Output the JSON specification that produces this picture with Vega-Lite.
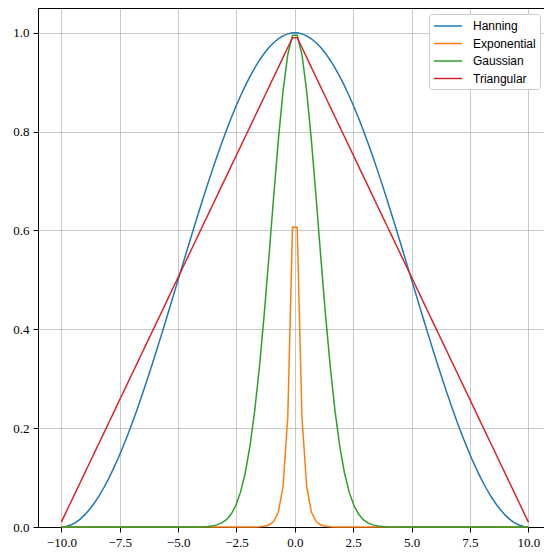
{
  "$schema": "https://vega.github.io/schema/vega-lite/v6.json",
  "autosize": {"type": "none"},
  "padding": {"left": 38, "top": 8, "right": 0, "bottom": 25},
  "width": 506,
  "height": 519,
  "background": "white",
  "config": {
    "view": {"stroke": null},
    "axis": {
      "labelFont": "Liberation Serif",
      "labelFontSize": 13,
      "labelColor": "black",
      "tickColor": "black",
      "tickSize": 5,
      "labelPadding": 4,
      "domainColor": "black",
      "domainWidth": 1,
      "gridColor": "#b0b0b0",
      "gridOpacity": 0.7,
      "gridWidth": 1,
      "title": null
    }
  },
  "data": {
    "values": [
      {"x": -10, "Hanning": 0, "Exponential": 0, "Gaussian": 0, "Triangular": 0.01},
      {"x": -9.798, "Hanning": 0.001, "Exponential": 0, "Gaussian": 0, "Triangular": 0.03},
      {"x": -9.596, "Hanning": 0.004, "Exponential": 0, "Gaussian": 0, "Triangular": 0.05},
      {"x": -9.3939, "Hanning": 0.009, "Exponential": 0, "Gaussian": 0, "Triangular": 0.07},
      {"x": -9.1919, "Hanning": 0.016, "Exponential": 0, "Gaussian": 0, "Triangular": 0.09},
      {"x": -8.9899, "Hanning": 0.025, "Exponential": 0, "Gaussian": 0, "Triangular": 0.11},
      {"x": -8.7879, "Hanning": 0.0358, "Exponential": 0, "Gaussian": 0, "Triangular": 0.13},
      {"x": -8.5859, "Hanning": 0.0485, "Exponential": 0, "Gaussian": 0, "Triangular": 0.15},
      {"x": -8.3838, "Hanning": 0.0631, "Exponential": 0, "Gaussian": 0, "Triangular": 0.17},
      {"x": -8.1818, "Hanning": 0.0794, "Exponential": 0, "Gaussian": 0, "Triangular": 0.19},
      {"x": -7.9798, "Hanning": 0.0974, "Exponential": 0, "Gaussian": 0, "Triangular": 0.21},
      {"x": -7.7778, "Hanning": 0.117, "Exponential": 0, "Gaussian": 0, "Triangular": 0.23},
      {"x": -7.5758, "Hanning": 0.1381, "Exponential": 0, "Gaussian": 0, "Triangular": 0.25},
      {"x": -7.3737, "Hanning": 0.1608, "Exponential": 0, "Gaussian": 0, "Triangular": 0.27},
      {"x": -7.1717, "Hanning": 0.1847, "Exponential": 0, "Gaussian": 0, "Triangular": 0.29},
      {"x": -6.9697, "Hanning": 0.21, "Exponential": 0, "Gaussian": 0, "Triangular": 0.31},
      {"x": -6.7677, "Hanning": 0.2364, "Exponential": 0, "Gaussian": 0, "Triangular": 0.33},
      {"x": -6.5657, "Hanning": 0.2639, "Exponential": 0, "Gaussian": 0, "Triangular": 0.35},
      {"x": -6.3636, "Hanning": 0.2923, "Exponential": 0, "Gaussian": 0, "Triangular": 0.37},
      {"x": -6.1616, "Hanning": 0.3216, "Exponential": 0, "Gaussian": 0, "Triangular": 0.39},
      {"x": -5.9596, "Hanning": 0.3515, "Exponential": 0, "Gaussian": 0, "Triangular": 0.41},
      {"x": -5.7576, "Hanning": 0.3821, "Exponential": 0, "Gaussian": 0, "Triangular": 0.43},
      {"x": -5.5556, "Hanning": 0.4132, "Exponential": 0, "Gaussian": 0, "Triangular": 0.45},
      {"x": -5.3535, "Hanning": 0.4446, "Exponential": 0, "Gaussian": 0, "Triangular": 0.47},
      {"x": -5.1515, "Hanning": 0.4762, "Exponential": 0, "Gaussian": 0, "Triangular": 0.49},
      {"x": -4.9495, "Hanning": 0.5079, "Exponential": 0, "Gaussian": 0, "Triangular": 0.51},
      {"x": -4.7475, "Hanning": 0.5396, "Exponential": 0, "Gaussian": 0, "Triangular": 0.53},
      {"x": -4.5455, "Hanning": 0.5712, "Exponential": 0, "Gaussian": 0, "Triangular": 0.55},
      {"x": -4.3434, "Hanning": 0.6024, "Exponential": 0, "Gaussian": 0.0001, "Triangular": 0.57},
      {"x": -4.1414, "Hanning": 0.6333, "Exponential": 0, "Gaussian": 0.0002, "Triangular": 0.59},
      {"x": -3.9394, "Hanning": 0.6635, "Exponential": 0, "Gaussian": 0.0005, "Triangular": 0.61},
      {"x": -3.7374, "Hanning": 0.6932, "Exponential": 0, "Gaussian": 0.0011, "Triangular": 0.63},
      {"x": -3.5354, "Hanning": 0.722, "Exponential": 0, "Gaussian": 0.0022, "Triangular": 0.65},
      {"x": -3.3333, "Hanning": 0.75, "Exponential": 0, "Gaussian": 0.0043, "Triangular": 0.67},
      {"x": -3.1313, "Hanning": 0.777, "Exponential": 0, "Gaussian": 0.0082, "Triangular": 0.69},
      {"x": -2.9293, "Hanning": 0.8028, "Exponential": 0, "Gaussian": 0.0149, "Triangular": 0.71},
      {"x": -2.7273, "Hanning": 0.8274, "Exponential": 0, "Gaussian": 0.0261, "Triangular": 0.73},
      {"x": -2.5253, "Hanning": 0.8507, "Exponential": 0, "Gaussian": 0.0439, "Triangular": 0.75},
      {"x": -2.3232, "Hanning": 0.8726, "Exponential": 0, "Gaussian": 0.071, "Triangular": 0.77},
      {"x": -2.1212, "Hanning": 0.893, "Exponential": 0, "Gaussian": 0.1103, "Triangular": 0.79},
      {"x": -1.9192, "Hanning": 0.9118, "Exponential": 0.0001, "Gaussian": 0.1645, "Triangular": 0.81},
      {"x": -1.7172, "Hanning": 0.929, "Exponential": 0.0002, "Gaussian": 0.2358, "Triangular": 0.83},
      {"x": -1.5152, "Hanning": 0.9444, "Exponential": 0.0006, "Gaussian": 0.3247, "Triangular": 0.85},
      {"x": -1.3131, "Hanning": 0.9581, "Exponential": 0.0015, "Gaussian": 0.4296, "Triangular": 0.87},
      {"x": -1.1111, "Hanning": 0.9699, "Exponential": 0.0041, "Gaussian": 0.5461, "Triangular": 0.89},
      {"x": -0.9091, "Hanning": 0.9798, "Exponential": 0.0111, "Gaussian": 0.667, "Triangular": 0.91},
      {"x": -0.7071, "Hanning": 0.9877, "Exponential": 0.0302, "Gaussian": 0.7827, "Triangular": 0.93},
      {"x": -0.5051, "Hanning": 0.9937, "Exponential": 0.0821, "Gaussian": 0.8825, "Triangular": 0.95},
      {"x": -0.303, "Hanning": 0.9977, "Exponential": 0.2231, "Gaussian": 0.956, "Triangular": 0.97},
      {"x": -0.101, "Hanning": 0.9998, "Exponential": 0.6065, "Gaussian": 0.995, "Triangular": 0.99},
      {"x": 0.101, "Hanning": 0.9998, "Exponential": 0.6065, "Gaussian": 0.995, "Triangular": 0.99},
      {"x": 0.303, "Hanning": 0.9977, "Exponential": 0.2231, "Gaussian": 0.956, "Triangular": 0.97},
      {"x": 0.5051, "Hanning": 0.9937, "Exponential": 0.0821, "Gaussian": 0.8825, "Triangular": 0.95},
      {"x": 0.7071, "Hanning": 0.9877, "Exponential": 0.0302, "Gaussian": 0.7827, "Triangular": 0.93},
      {"x": 0.9091, "Hanning": 0.9798, "Exponential": 0.0111, "Gaussian": 0.667, "Triangular": 0.91},
      {"x": 1.1111, "Hanning": 0.9699, "Exponential": 0.0041, "Gaussian": 0.5461, "Triangular": 0.89},
      {"x": 1.3131, "Hanning": 0.9581, "Exponential": 0.0015, "Gaussian": 0.4296, "Triangular": 0.87},
      {"x": 1.5152, "Hanning": 0.9444, "Exponential": 0.0006, "Gaussian": 0.3247, "Triangular": 0.85},
      {"x": 1.7172, "Hanning": 0.929, "Exponential": 0.0002, "Gaussian": 0.2358, "Triangular": 0.83},
      {"x": 1.9192, "Hanning": 0.9118, "Exponential": 0.0001, "Gaussian": 0.1645, "Triangular": 0.81},
      {"x": 2.1212, "Hanning": 0.893, "Exponential": 0, "Gaussian": 0.1103, "Triangular": 0.79},
      {"x": 2.3232, "Hanning": 0.8726, "Exponential": 0, "Gaussian": 0.071, "Triangular": 0.77},
      {"x": 2.5253, "Hanning": 0.8507, "Exponential": 0, "Gaussian": 0.0439, "Triangular": 0.75},
      {"x": 2.7273, "Hanning": 0.8274, "Exponential": 0, "Gaussian": 0.0261, "Triangular": 0.73},
      {"x": 2.9293, "Hanning": 0.8028, "Exponential": 0, "Gaussian": 0.0149, "Triangular": 0.71},
      {"x": 3.1313, "Hanning": 0.777, "Exponential": 0, "Gaussian": 0.0082, "Triangular": 0.69},
      {"x": 3.3333, "Hanning": 0.75, "Exponential": 0, "Gaussian": 0.0043, "Triangular": 0.67},
      {"x": 3.5354, "Hanning": 0.722, "Exponential": 0, "Gaussian": 0.0022, "Triangular": 0.65},
      {"x": 3.7374, "Hanning": 0.6932, "Exponential": 0, "Gaussian": 0.0011, "Triangular": 0.63},
      {"x": 3.9394, "Hanning": 0.6635, "Exponential": 0, "Gaussian": 0.0005, "Triangular": 0.61},
      {"x": 4.1414, "Hanning": 0.6333, "Exponential": 0, "Gaussian": 0.0002, "Triangular": 0.59},
      {"x": 4.3434, "Hanning": 0.6024, "Exponential": 0, "Gaussian": 0.0001, "Triangular": 0.57},
      {"x": 4.5455, "Hanning": 0.5712, "Exponential": 0, "Gaussian": 0, "Triangular": 0.55},
      {"x": 4.7475, "Hanning": 0.5396, "Exponential": 0, "Gaussian": 0, "Triangular": 0.53},
      {"x": 4.9495, "Hanning": 0.5079, "Exponential": 0, "Gaussian": 0, "Triangular": 0.51},
      {"x": 5.1515, "Hanning": 0.4762, "Exponential": 0, "Gaussian": 0, "Triangular": 0.49},
      {"x": 5.3535, "Hanning": 0.4446, "Exponential": 0, "Gaussian": 0, "Triangular": 0.47},
      {"x": 5.5556, "Hanning": 0.4132, "Exponential": 0, "Gaussian": 0, "Triangular": 0.45},
      {"x": 5.7576, "Hanning": 0.3821, "Exponential": 0, "Gaussian": 0, "Triangular": 0.43},
      {"x": 5.9596, "Hanning": 0.3515, "Exponential": 0, "Gaussian": 0, "Triangular": 0.41},
      {"x": 6.1616, "Hanning": 0.3216, "Exponential": 0, "Gaussian": 0, "Triangular": 0.39},
      {"x": 6.3636, "Hanning": 0.2923, "Exponential": 0, "Gaussian": 0, "Triangular": 0.37},
      {"x": 6.5657, "Hanning": 0.2639, "Exponential": 0, "Gaussian": 0, "Triangular": 0.35},
      {"x": 6.7677, "Hanning": 0.2364, "Exponential": 0, "Gaussian": 0, "Triangular": 0.33},
      {"x": 6.9697, "Hanning": 0.21, "Exponential": 0, "Gaussian": 0, "Triangular": 0.31},
      {"x": 7.1717, "Hanning": 0.1847, "Exponential": 0, "Gaussian": 0, "Triangular": 0.29},
      {"x": 7.3737, "Hanning": 0.1608, "Exponential": 0, "Gaussian": 0, "Triangular": 0.27},
      {"x": 7.5758, "Hanning": 0.1381, "Exponential": 0, "Gaussian": 0, "Triangular": 0.25},
      {"x": 7.7778, "Hanning": 0.117, "Exponential": 0, "Gaussian": 0, "Triangular": 0.23},
      {"x": 7.9798, "Hanning": 0.0974, "Exponential": 0, "Gaussian": 0, "Triangular": 0.21},
      {"x": 8.1818, "Hanning": 0.0794, "Exponential": 0, "Gaussian": 0, "Triangular": 0.19},
      {"x": 8.3838, "Hanning": 0.0631, "Exponential": 0, "Gaussian": 0, "Triangular": 0.17},
      {"x": 8.5859, "Hanning": 0.0485, "Exponential": 0, "Gaussian": 0, "Triangular": 0.15},
      {"x": 8.7879, "Hanning": 0.0358, "Exponential": 0, "Gaussian": 0, "Triangular": 0.13},
      {"x": 8.9899, "Hanning": 0.025, "Exponential": 0, "Gaussian": 0, "Triangular": 0.11},
      {"x": 9.1919, "Hanning": 0.016, "Exponential": 0, "Gaussian": 0, "Triangular": 0.09},
      {"x": 9.3939, "Hanning": 0.009, "Exponential": 0, "Gaussian": 0, "Triangular": 0.07},
      {"x": 9.596, "Hanning": 0.004, "Exponential": 0, "Gaussian": 0, "Triangular": 0.05},
      {"x": 9.798, "Hanning": 0.001, "Exponential": 0, "Gaussian": 0, "Triangular": 0.03},
      {"x": 10, "Hanning": 0, "Exponential": 0, "Gaussian": 0, "Triangular": 0.01}
    ]
  },
  "transform": [
    {"fold": ["Hanning", "Exponential", "Gaussian", "Triangular"], "as": ["window", "value"]}
  ],
  "layer": [
    {
      "mark": {"type": "line", "strokeWidth": 1.5},
      "encoding": {
        "x": {
          "field": "x",
          "type": "quantitative",
          "scale": {"domain": [-11, 10.67], "nice": false, "zero": false},
          "axis": {"values": [-10, -7.5, -5, -2.5, 0, 2.5, 5, 7.5, 10], "format": ".1f", "orient": "bottom"}
        },
        "y": {
          "field": "value",
          "type": "quantitative",
          "scale": {"domain": [0, 1.05], "nice": false, "zero": false},
          "axis": {"values": [0, 0.2, 0.4, 0.6, 0.8, 1.0], "format": ".1f"}
        },
        "color": {
          "field": "window",
          "type": "nominal",
          "scale": {
            "domain": ["Hanning", "Exponential", "Gaussian", "Triangular"],
            "range": ["#1f77b4", "#ff7f0e", "#2ca02c", "#d62728"]
          },
          "legend": {
            "title": null,
            "orient": "none",
            "legendX": 391,
            "legendY": 6,
            "symbolType": "M-1,0H3",
            "symbolSize": 196,
            "symbolStrokeWidth": 1.5,
            "labelFont": "Liberation Sans",
            "labelFontSize": 12,
            "labelColor": "black",
            "labelOffset": 24,
            "padding": 4,
            "rowPadding": 3.5,
            "strokeColor": "#cccccc",
            "fillColor": "white",
            "cornerRadius": 3
          }
        },
        "order": {"field": "x", "type": "quantitative"}
      }
    },
    {
      "mark": {"type": "rule", "opacity": 0},
      "encoding": {
        "x": {
          "field": "x",
          "type": "quantitative",
          "axis": {"orient": "top", "labels": false, "ticks": false, "grid": false, "domain": true}
        }
      }
    }
  ],
  "resolve": {"axis": {"x": "independent"}}
}
